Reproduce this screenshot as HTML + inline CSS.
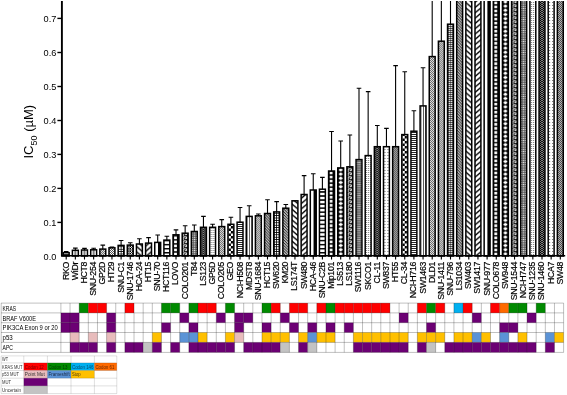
<!DOCTYPE html>
<html><head><meta charset="utf-8"><title>IC50</title>
<style>html,body{margin:0;padding:0;background:#fff}svg{display:block}text{font-family:"Liberation Sans",sans-serif}</style></head><body>
<svg width="567" height="395" viewBox="0 0 567 395">
<defs>
<pattern id="hl" width="2" height="2" patternUnits="userSpaceOnUse"><rect width="2" height="2" fill="#fff"/><rect width="2" height="0.85" fill="#000"/></pattern>
<pattern id="wv" width="4" height="4" patternUnits="userSpaceOnUse"><rect width="4" height="4" fill="#fff"/><rect width="1" height="4" x="1" fill="#000"/></pattern>
<pattern id="dd" width="2" height="2" patternUnits="userSpaceOnUse"><rect width="2" height="2" fill="#000"/><rect width="1" height="1" fill="#fff"/><rect x="1" y="1" width="1" height="1" fill="#bbb"/></pattern>
<pattern id="grid" x="-0.3" width="2" height="2" patternUnits="userSpaceOnUse"><rect width="2" height="2" fill="#fff"/><rect width="2" height="0.6" fill="#000"/><rect width="0.6" height="2" fill="#000"/></pattern>
<pattern id="xh" width="2.4" height="2.4" patternUnits="userSpaceOnUse"><rect width="2.4" height="2.4" fill="#fff"/><path d="M0 0L2.4 2.4M0 2.4L2.4 0" stroke="#000" stroke-width="0.8"/></pattern>
<pattern id="hatch" width="2" height="2" patternUnits="userSpaceOnUse"><rect width="2" height="2" fill="#fff"/><path d="M-1 -1L3 3M-1 1L1 3M1 -1L3 1" stroke="#000" stroke-width="0.7"/></pattern>
<pattern id="bs" x="-3" y="1" width="6" height="5.3" patternUnits="userSpaceOnUse"><rect width="6" height="5.3" fill="#fff"/><path d="M-1 -16.75L7 -9.95M-1 -11.45L7 -4.65M-1 -6.15L7 0.65M-1 -0.85L7 5.95M-1 4.45L7 11.25M-1 9.75L7 16.55" stroke="#000" stroke-width="1.35"/></pattern>
<pattern id="fs" x="-3" y="1" width="6" height="5.3" patternUnits="userSpaceOnUse"><rect width="6" height="5.3" fill="#fff"/><path d="M-1 -9.95L7 -16.75M-1 -4.65L7 -11.45M-1 0.65L7 -6.15M-1 5.95L7 -0.85M-1 11.25L7 4.45M-1 16.55L7 9.75" stroke="#000" stroke-width="1.35"/></pattern>
<pattern id="hlad" width="4" height="4.05" patternUnits="userSpaceOnUse"><rect width="4" height="4.05" fill="#fff"/><rect width="4" height="1.5" fill="#000"/></pattern>
<pattern id="greek" x="-3" width="6" height="4" patternUnits="userSpaceOnUse"><rect width="6" height="4" fill="#000"/><path d="M1.2 4V0.9H4.6V2.7H2.8" stroke="#fff" stroke-width="1" fill="none"/></pattern>
<pattern id="smsq" x="-3.3" width="2.2" height="2.2" patternUnits="userSpaceOnUse"><rect width="2.2" height="2.2" fill="#4a4a4a"/><rect x="0.5" y="0.5" width="1.25" height="1.25" fill="#fff"/></pattern>
<pattern id="dzz" width="3" height="2" patternUnits="userSpaceOnUse"><rect width="3" height="2" fill="#000"/><path d="M0 0.2L1.5 1.6L3 0.2" stroke="#fff" stroke-width="0.6" fill="none"/></pattern>
<pattern id="ldots" width="2" height="2" patternUnits="userSpaceOnUse"><rect width="2" height="2" fill="#fff"/><rect width="1" height="1" fill="#777"/></pattern>
<pattern id="sdots" width="3" height="3" patternUnits="userSpaceOnUse"><rect width="3" height="3" fill="#fff"/><rect x="1" y="1" width="1" height="1" fill="#666"/></pattern>
<pattern id="fchk" width="2" height="2" patternUnits="userSpaceOnUse"><rect width="2" height="2" fill="#fff"/><rect width="1" height="1" fill="#000"/><rect x="1" y="1" width="1" height="1" fill="#000"/></pattern>
<pattern id="vert" width="20" height="4" patternUnits="userSpaceOnUse"><rect width="20" height="4" fill="#fff"/></pattern>
<pattern id="wvl" width="2.4" height="4" patternUnits="userSpaceOnUse"><rect width="2.4" height="4" fill="#fff"/><rect x="0.2" width="0.55" height="4" fill="#000"/></pattern>
<pattern id="sqlad" x="-3" width="6" height="4.05" patternUnits="userSpaceOnUse"><rect width="6" height="4.05" fill="#000"/><rect x="1.1" y="0.7" width="2.8" height="2.7" fill="#fff"/></pattern>
<pattern id="diam" x="-3" width="6" height="4.2" patternUnits="userSpaceOnUse"><rect width="6" height="4.2" fill="#000"/><path d="M3 0.3L5.4 2.1L3 3.9L0.6 2.1Z" fill="#fff"/></pattern>
<pattern id="hatch2" width="2.8" height="2.8" patternUnits="userSpaceOnUse"><rect width="2.8" height="2.8" fill="#fff"/><path d="M-1 -1L3.8 3.8M-1 1.8L1 3.8M1.8 -1L3.8 1" stroke="#000" stroke-width="0.95"/></pattern>
<pattern id="grid2" x="-0.4" width="2.4" height="2.4" patternUnits="userSpaceOnUse"><rect width="2.4" height="2.4" fill="#fff"/><rect width="2.4" height="0.8" fill="#000"/><rect width="0.8" height="2.4" fill="#000"/></pattern>
<pattern id="cl" x="-3" width="6" height="4" patternUnits="userSpaceOnUse"><rect width="6" height="4" fill="#fff"/><rect x="2.5" width="1" height="4" fill="#000"/></pattern>
<pattern id="bigchk" width="5" height="5" patternUnits="userSpaceOnUse"><rect width="5" height="5" fill="#fff"/><rect width="2.5" height="2.5" fill="#000"/><rect x="2.5" y="2.5" width="2.5" height="2.5" fill="#000"/></pattern>
<clipPath id="cp"><rect x="0" y="1" width="567" height="300"/></clipPath></defs>
<rect width="567" height="395" fill="#fff"/>
<g clip-path="url(#cp)">
<g transform="translate(66.20 256.0)">
<path d="M0 -3.30V-4.40M-2.3 -4.40H2.3" stroke="#000" stroke-width="1.1" fill="none"/>
<rect x="-2.95" y="-3.30" width="5.9" height="3.30" fill="url(#hl)" stroke="#000" stroke-width="1.5"/>
</g>
<g transform="translate(75.35 256.0)">
<path d="M0 -5.70V-7.90M-2.3 -7.90H2.3" stroke="#000" stroke-width="1.1" fill="none"/>
<rect x="-2.95" y="-5.70" width="5.9" height="5.70" fill="url(#cl)" stroke="#000" stroke-width="1.5"/>
</g>
<g transform="translate(84.50 256.0)">
<path d="M0 -6.00V-7.60M-2.3 -7.60H2.3" stroke="#000" stroke-width="1.1" fill="none"/>
<rect x="-2.95" y="-6.00" width="5.9" height="6.00" fill="url(#cl)" stroke="#000" stroke-width="1.5"/>
</g>
<g transform="translate(93.65 256.0)">
<path d="M0 -6.20V-7.70M-2.3 -7.70H2.3" stroke="#000" stroke-width="1.1" fill="none"/>
<rect x="-2.95" y="-6.20" width="5.9" height="6.20" fill="url(#cl)" stroke="#000" stroke-width="1.5"/>
</g>
<g transform="translate(102.80 256.0)">
<path d="M0 -6.90V-10.90M-2.3 -10.90H2.3" stroke="#000" stroke-width="1.1" fill="none"/>
<rect x="-2.95" y="-6.90" width="5.9" height="6.90" fill="url(#hatch)" stroke="#000" stroke-width="1.5"/>
</g>
<g transform="translate(111.95 256.0)">
<path d="M0 -8.20V-8.90M-2.3 -8.90H2.3" stroke="#000" stroke-width="1.1" fill="none"/>
<rect x="-2.95" y="-8.20" width="5.9" height="8.20" fill="url(#hatch)" stroke="#000" stroke-width="1.5"/>
</g>
<g transform="translate(121.10 256.0)">
<path d="M0 -10.60V-15.50M-2.3 -15.50H2.3" stroke="#000" stroke-width="1.1" fill="none"/>
<rect x="-2.95" y="-10.60" width="5.9" height="10.60" fill="url(#grid2)" stroke="#000" stroke-width="1.5"/>
</g>
<g transform="translate(130.25 256.0)">
<path d="M0 -10.90V-13.30M-2.3 -13.30H2.3" stroke="#000" stroke-width="1.1" fill="none"/>
<rect x="-2.95" y="-10.90" width="5.9" height="10.90" fill="url(#xh)" stroke="#000" stroke-width="1.5"/>
</g>
<g transform="translate(139.40 256.0)">
<path d="M0 -12.00V-17.30M-2.3 -17.30H2.3" stroke="#000" stroke-width="1.1" fill="none"/>
<rect x="-2.95" y="-12.00" width="5.9" height="12.00" fill="url(#bs)" stroke="#000" stroke-width="1.5"/>
</g>
<g transform="translate(148.55 256.0)">
<path d="M0 -12.90V-18.40M-2.3 -18.40H2.3" stroke="#000" stroke-width="1.1" fill="none"/>
<rect x="-2.95" y="-12.90" width="5.9" height="12.90" fill="url(#fs)" stroke="#000" stroke-width="1.5"/>
</g>
<g transform="translate(157.70 256.0)">
<path d="M0 -13.60V-21.00M-2.3 -21.00H2.3" stroke="#000" stroke-width="1.1" fill="none"/>
<rect x="-2.95" y="-13.60" width="5.9" height="13.60" fill="url(#vert)" stroke="#000" stroke-width="1.5"/>
<rect x="0.3" y="-13.60" width="2.8" height="13.60" fill="#000"/>
</g>
<g transform="translate(166.85 256.0)">
<path d="M0 -15.90V-19.80M-2.3 -19.80H2.3" stroke="#000" stroke-width="1.1" fill="none"/>
<rect x="-2.95" y="-15.90" width="5.9" height="15.90" fill="url(#hlad)" stroke="#000" stroke-width="1.5"/>
</g>
<g transform="translate(176.00 256.0)">
<path d="M0 -21.20V-26.10M-2.3 -26.10H2.3" stroke="#000" stroke-width="1.1" fill="none"/>
<rect x="-2.95" y="-21.20" width="5.9" height="21.20" fill="url(#sqlad)" stroke="#000" stroke-width="1.5"/>
</g>
<g transform="translate(185.15 256.0)">
<path d="M0 -22.80V-30.30M-2.3 -30.30H2.3" stroke="#000" stroke-width="1.1" fill="none"/>
<rect x="-2.95" y="-22.80" width="5.9" height="22.80" fill="url(#greek)" stroke="#000" stroke-width="1.5"/>
</g>
<g transform="translate(194.30 256.0)">
<path d="M0 -24.50V-31.00M-2.3 -31.00H2.3" stroke="#000" stroke-width="1.1" fill="none"/>
<rect x="-2.95" y="-24.50" width="5.9" height="24.50" fill="url(#smsq)" stroke="#000" stroke-width="1.5"/>
</g>
<g transform="translate(203.45 256.0)">
<path d="M0 -28.70V-39.60M-2.3 -39.60H2.3" stroke="#000" stroke-width="1.1" fill="none"/>
<rect x="-2.95" y="-28.70" width="5.9" height="28.70" fill="url(#dzz)" stroke="#000" stroke-width="1.5"/>
</g>
<g transform="translate(212.60 256.0)">
<path d="M0 -28.70V-31.70M-2.3 -31.70H2.3" stroke="#000" stroke-width="1.1" fill="none"/>
<rect x="-2.95" y="-28.70" width="5.9" height="28.70" fill="url(#ldots)" stroke="#000" stroke-width="1.5"/>
</g>
<g transform="translate(221.75 256.0)">
<path d="M0 -29.40V-36.40M-2.3 -36.40H2.3" stroke="#000" stroke-width="1.1" fill="none"/>
<rect x="-2.95" y="-29.40" width="5.9" height="29.40" fill="url(#hatch)" stroke="#000" stroke-width="1.5"/>
</g>
<g transform="translate(230.90 256.0)">
<path d="M0 -31.70V-38.70M-2.3 -38.70H2.3" stroke="#000" stroke-width="1.1" fill="none"/>
<rect x="-2.95" y="-31.70" width="5.9" height="31.70" fill="url(#bigchk)" stroke="#000" stroke-width="1.5"/>
</g>
<g transform="translate(240.05 256.0)">
<path d="M0 -33.80V-48.50M-2.3 -48.50H2.3" stroke="#000" stroke-width="1.1" fill="none"/>
<rect x="-2.95" y="-33.80" width="5.9" height="33.80" fill="url(#hl)" stroke="#000" stroke-width="1.5"/>
</g>
<g transform="translate(249.20 256.0)">
<path d="M0 -39.60V-50.30M-2.3 -50.30H2.3" stroke="#000" stroke-width="1.1" fill="none"/>
<rect x="-2.95" y="-39.60" width="5.9" height="39.60" fill="url(#wvl)" stroke="#000" stroke-width="1.5"/>
</g>
<g transform="translate(258.35 256.0)">
<path d="M0 -40.20V-42.00M-2.3 -42.00H2.3" stroke="#000" stroke-width="1.1" fill="none"/>
<rect x="-2.95" y="-40.20" width="5.9" height="40.20" fill="url(#hatch)" stroke="#000" stroke-width="1.5"/>
</g>
<g transform="translate(267.50 256.0)">
<path d="M0 -42.50V-56.30M-2.3 -56.30H2.3" stroke="#000" stroke-width="1.1" fill="none"/>
<rect x="-2.95" y="-42.50" width="5.9" height="42.50" fill="url(#hatch2)" stroke="#000" stroke-width="1.5"/>
</g>
<g transform="translate(276.65 256.0)">
<path d="M0 -44.10V-54.40M-2.3 -54.40H2.3" stroke="#000" stroke-width="1.1" fill="none"/>
<rect x="-2.95" y="-44.10" width="5.9" height="44.10" fill="url(#grid2)" stroke="#000" stroke-width="1.5"/>
</g>
<g transform="translate(285.80 256.0)">
<path d="M0 -47.80V-51.50M-2.3 -51.50H2.3" stroke="#000" stroke-width="1.1" fill="none"/>
<rect x="-2.95" y="-47.80" width="5.9" height="47.80" fill="url(#hatch2)" stroke="#000" stroke-width="1.5"/>
</g>
<g transform="translate(294.95 256.0)">
<rect x="-2.95" y="-55.20" width="5.9" height="55.20" fill="url(#bs)" stroke="#000" stroke-width="1.5"/>
</g>
<g transform="translate(304.10 256.0)">
<path d="M0 -61.50V-80.40M-2.3 -80.40H2.3" stroke="#000" stroke-width="1.1" fill="none"/>
<rect x="-2.95" y="-61.50" width="5.9" height="61.50" fill="url(#fs)" stroke="#000" stroke-width="1.5"/>
</g>
<g transform="translate(313.25 256.0)">
<path d="M0 -66.00V-82.30M-2.3 -82.30H2.3" stroke="#000" stroke-width="1.1" fill="none"/>
<rect x="-2.95" y="-66.00" width="5.9" height="66.00" fill="url(#vert)" stroke="#000" stroke-width="1.5"/>
<rect x="0.3" y="-66.00" width="2.8" height="66.00" fill="#000"/>
</g>
<g transform="translate(322.40 256.0)">
<path d="M0 -66.80V-78.60M-2.3 -78.60H2.3" stroke="#000" stroke-width="1.1" fill="none"/>
<rect x="-2.95" y="-66.80" width="5.9" height="66.80" fill="url(#hlad)" stroke="#000" stroke-width="1.5"/>
</g>
<g transform="translate(331.55 256.0)">
<path d="M0 -85.00V-124.50M-2.3 -124.50H2.3" stroke="#000" stroke-width="1.1" fill="none"/>
<rect x="-2.95" y="-85.00" width="5.9" height="85.00" fill="url(#sqlad)" stroke="#000" stroke-width="1.5"/>
</g>
<g transform="translate(340.70 256.0)">
<path d="M0 -88.10V-115.00M-2.3 -115.00H2.3" stroke="#000" stroke-width="1.1" fill="none"/>
<rect x="-2.95" y="-88.10" width="5.9" height="88.10" fill="url(#diam)" stroke="#000" stroke-width="1.5"/>
</g>
<g transform="translate(349.85 256.0)">
<path d="M0 -89.20V-121.00M-2.3 -121.00H2.3" stroke="#000" stroke-width="1.1" fill="none"/>
<rect x="-2.95" y="-89.20" width="5.9" height="89.20" fill="url(#greek)" stroke="#000" stroke-width="1.5"/>
</g>
<g transform="translate(359.00 256.0)">
<path d="M0 -96.40V-167.80M-2.3 -167.80H2.3" stroke="#000" stroke-width="1.1" fill="none"/>
<rect x="-2.95" y="-96.40" width="5.9" height="96.40" fill="url(#smsq)" stroke="#000" stroke-width="1.5"/>
</g>
<g transform="translate(368.15 256.0)">
<path d="M0 -100.40V-164.40M-2.3 -164.40H2.3" stroke="#000" stroke-width="1.1" fill="none"/>
<rect x="-2.95" y="-100.40" width="5.9" height="100.40" fill="url(#ldots)" stroke="#000" stroke-width="1.5"/>
</g>
<g transform="translate(377.30 256.0)">
<path d="M0 -109.30V-130.50M-2.3 -130.50H2.3" stroke="#000" stroke-width="1.1" fill="none"/>
<rect x="-2.95" y="-109.30" width="5.9" height="109.30" fill="url(#dzz)" stroke="#000" stroke-width="1.5"/>
</g>
<g transform="translate(386.45 256.0)">
<path d="M0 -109.30V-127.60M-2.3 -127.60H2.3" stroke="#000" stroke-width="1.1" fill="none"/>
<rect x="-2.95" y="-109.30" width="5.9" height="109.30" fill="url(#sdots)" stroke="#000" stroke-width="1.5"/>
</g>
<g transform="translate(395.60 256.0)">
<path d="M0 -109.30V-190.40M-2.3 -190.40H2.3" stroke="#000" stroke-width="1.1" fill="none"/>
<rect x="-2.95" y="-109.30" width="5.9" height="109.30" fill="url(#fchk)" stroke="#000" stroke-width="1.5"/>
</g>
<g transform="translate(404.75 256.0)">
<path d="M0 -121.40V-184.20M-2.3 -184.20H2.3" stroke="#000" stroke-width="1.1" fill="none"/>
<rect x="-2.95" y="-121.40" width="5.9" height="121.40" fill="url(#bigchk)" stroke="#000" stroke-width="1.5"/>
</g>
<g transform="translate(413.90 256.0)">
<path d="M0 -124.80V-145.20M-2.3 -145.20H2.3" stroke="#000" stroke-width="1.1" fill="none"/>
<rect x="-2.95" y="-124.80" width="5.9" height="124.80" fill="url(#hl)" stroke="#000" stroke-width="1.5"/>
</g>
<g transform="translate(423.05 256.0)">
<path d="M0 -150.10V-188.30M-2.3 -188.30H2.3" stroke="#000" stroke-width="1.1" fill="none"/>
<rect x="-2.95" y="-150.10" width="5.9" height="150.10" fill="url(#wvl)" stroke="#000" stroke-width="1.5"/>
</g>
<g transform="translate(432.20 256.0)">
<path d="M0 -199.40V-400.00M-2.3 -400.00H2.3" stroke="#000" stroke-width="1.1" fill="none"/>
<rect x="-2.95" y="-199.40" width="5.9" height="199.40" fill="url(#hatch)" stroke="#000" stroke-width="1.5"/>
</g>
<g transform="translate(441.35 256.0)">
<path d="M0 -214.80V-400.00M-2.3 -400.00H2.3" stroke="#000" stroke-width="1.1" fill="none"/>
<rect x="-2.95" y="-214.80" width="5.9" height="214.80" fill="url(#hatch)" stroke="#000" stroke-width="1.5"/>
</g>
<g transform="translate(450.50 256.0)">
<path d="M0 -231.80V-400.00M-2.3 -400.00H2.3" stroke="#000" stroke-width="1.1" fill="none"/>
<rect x="-2.95" y="-231.80" width="5.9" height="231.80" fill="url(#grid)" stroke="#000" stroke-width="1.5"/>
</g>
<g transform="translate(459.65 256.0)">
<rect x="-2.95" y="-400.00" width="5.9" height="400.00" fill="url(#hatch2)" stroke="#000" stroke-width="1.5"/>
</g>
<g transform="translate(468.80 256.0)">
<rect x="-2.95" y="-400.00" width="5.9" height="400.00" fill="url(#bs)" stroke="#000" stroke-width="1.5"/>
</g>
<g transform="translate(477.95 256.0)">
<rect x="-2.95" y="-400.00" width="5.9" height="400.00" fill="url(#fs)" stroke="#000" stroke-width="1.5"/>
</g>
<g transform="translate(487.10 256.0)">
<rect x="-2.95" y="-400.00" width="5.9" height="400.00" fill="url(#vert)" stroke="#000" stroke-width="1.5"/>
<rect x="0.3" y="-400.00" width="2.8" height="400.00" fill="#000"/>
</g>
<g transform="translate(496.25 256.0)">
<rect x="-2.95" y="-400.00" width="5.9" height="400.00" fill="url(#sqlad)" stroke="#000" stroke-width="1.5"/>
</g>
<g transform="translate(505.40 256.0)">
<rect x="-2.95" y="-400.00" width="5.9" height="400.00" fill="url(#diam)" stroke="#000" stroke-width="1.5"/>
</g>
<g transform="translate(514.55 256.0)">
<rect x="-2.95" y="-400.00" width="5.9" height="400.00" fill="url(#greek)" stroke="#000" stroke-width="1.5"/>
</g>
<g transform="translate(523.70 256.0)">
<rect x="-2.95" y="-400.00" width="5.9" height="400.00" fill="url(#smsq)" stroke="#000" stroke-width="1.5"/>
</g>
<g transform="translate(532.85 256.0)">
<rect x="-2.95" y="-400.00" width="5.9" height="400.00" fill="url(#ldots)" stroke="#000" stroke-width="1.5"/>
</g>
<g transform="translate(542.00 256.0)">
<rect x="-2.95" y="-400.00" width="5.9" height="400.00" fill="url(#dzz)" stroke="#000" stroke-width="1.5"/>
</g>
<g transform="translate(551.15 256.0)">
<rect x="-2.95" y="-400.00" width="5.9" height="400.00" fill="url(#sdots)" stroke="#000" stroke-width="1.5"/>
</g>
<g transform="translate(560.30 256.0)">
<rect x="-2.95" y="-400.00" width="5.9" height="400.00" fill="url(#fchk)" stroke="#000" stroke-width="1.5"/>
</g>
</g>
<path d="M61.9 1V256.6" stroke="#000" stroke-width="1.9"/>
<path d="M61.25 255.8H565.2" stroke="#000" stroke-width="1.6"/>
<text x="56.3" y="259.8" font-size="9.2" text-anchor="end">0.0</text>
<path d="M57.4 222.4H62.0" stroke="#000" stroke-width="1.4"/>
<text x="56.3" y="225.8" font-size="9.2" text-anchor="end">0.1</text>
<path d="M57.4 188.4H62.0" stroke="#000" stroke-width="1.4"/>
<text x="56.3" y="191.8" font-size="9.2" text-anchor="end">0.2</text>
<path d="M57.4 154.4H62.0" stroke="#000" stroke-width="1.4"/>
<text x="56.3" y="157.8" font-size="9.2" text-anchor="end">0.3</text>
<path d="M57.4 120.5H62.0" stroke="#000" stroke-width="1.4"/>
<text x="56.3" y="123.8" font-size="9.2" text-anchor="end">0.4</text>
<path d="M57.4 86.5H62.0" stroke="#000" stroke-width="1.4"/>
<text x="56.3" y="89.8" font-size="9.2" text-anchor="end">0.5</text>
<path d="M57.4 52.5H62.0" stroke="#000" stroke-width="1.4"/>
<text x="56.3" y="55.8" font-size="9.2" text-anchor="end">0.6</text>
<path d="M57.4 18.4H62.0" stroke="#000" stroke-width="1.4"/>
<text x="56.3" y="21.8" font-size="9.2" text-anchor="end">0.7</text>
<path d="M66.20 256.0V259.6M75.35 256.0V259.6M84.50 256.0V259.6M93.65 256.0V259.6M102.80 256.0V259.6M111.95 256.0V259.6M121.10 256.0V259.6M130.25 256.0V259.6M139.40 256.0V259.6M148.55 256.0V259.6M157.70 256.0V259.6M166.85 256.0V259.6M176.00 256.0V259.6M185.15 256.0V259.6M194.30 256.0V259.6M203.45 256.0V259.6M212.60 256.0V259.6M221.75 256.0V259.6M230.90 256.0V259.6M240.05 256.0V259.6M249.20 256.0V259.6M258.35 256.0V259.6M267.50 256.0V259.6M276.65 256.0V259.6M285.80 256.0V259.6M294.95 256.0V259.6M304.10 256.0V259.6M313.25 256.0V259.6M322.40 256.0V259.6M331.55 256.0V259.6M340.70 256.0V259.6M349.85 256.0V259.6M359.00 256.0V259.6M368.15 256.0V259.6M377.30 256.0V259.6M386.45 256.0V259.6M395.60 256.0V259.6M404.75 256.0V259.6M413.90 256.0V259.6M423.05 256.0V259.6M432.20 256.0V259.6M441.35 256.0V259.6M450.50 256.0V259.6M459.65 256.0V259.6M468.80 256.0V259.6M477.95 256.0V259.6M487.10 256.0V259.6M496.25 256.0V259.6M505.40 256.0V259.6M514.55 256.0V259.6M523.70 256.0V259.6M532.85 256.0V259.6M542.00 256.0V259.6M551.15 256.0V259.6M560.30 256.0V259.6" stroke="#000" stroke-width="1.1"/>
<text transform="translate(68.65 262) rotate(-90)" font-size="8.8" letter-spacing="-0.35" text-anchor="end" stroke="#000" stroke-width="0.2">RKO</text>
<text transform="translate(77.80 262) rotate(-90)" font-size="8.8" letter-spacing="-0.35" text-anchor="end" stroke="#000" stroke-width="0.2">WiDr</text>
<text transform="translate(86.95 262) rotate(-90)" font-size="8.8" letter-spacing="-0.35" text-anchor="end" stroke="#000" stroke-width="0.2">HCT8</text>
<text transform="translate(96.10 262) rotate(-90)" font-size="8.8" letter-spacing="-0.35" text-anchor="end" stroke="#000" stroke-width="0.2">SNU-254</text>
<text transform="translate(105.25 262) rotate(-90)" font-size="8.8" letter-spacing="-0.35" text-anchor="end" stroke="#000" stroke-width="0.2">GP2D</text>
<text transform="translate(114.40 262) rotate(-90)" font-size="8.8" letter-spacing="-0.35" text-anchor="end" stroke="#000" stroke-width="0.2">HT29</text>
<text transform="translate(123.55 262) rotate(-90)" font-size="8.8" letter-spacing="-0.35" text-anchor="end" stroke="#000" stroke-width="0.2">SNU-C1</text>
<text transform="translate(132.70 262) rotate(-90)" font-size="8.8" letter-spacing="-0.35" text-anchor="end" stroke="#000" stroke-width="0.2">SNU-1746</text>
<text transform="translate(141.85 262) rotate(-90)" font-size="8.8" letter-spacing="-0.35" text-anchor="end" stroke="#000" stroke-width="0.2">HCA-24</text>
<text transform="translate(151.00 262) rotate(-90)" font-size="8.8" letter-spacing="-0.35" text-anchor="end" stroke="#000" stroke-width="0.2">HT15</text>
<text transform="translate(160.15 262) rotate(-90)" font-size="8.8" letter-spacing="-0.35" text-anchor="end" stroke="#000" stroke-width="0.2">SNU-70</text>
<text transform="translate(169.30 262) rotate(-90)" font-size="8.8" letter-spacing="-0.35" text-anchor="end" stroke="#000" stroke-width="0.2">HCT116</text>
<text transform="translate(178.45 262) rotate(-90)" font-size="8.8" letter-spacing="-0.35" text-anchor="end" stroke="#000" stroke-width="0.2">LOVO</text>
<text transform="translate(187.60 262) rotate(-90)" font-size="8.8" letter-spacing="-0.35" text-anchor="end" stroke="#000" stroke-width="0.2">COLO201</text>
<text transform="translate(196.75 262) rotate(-90)" font-size="8.8" letter-spacing="-0.35" text-anchor="end" stroke="#000" stroke-width="0.2">T84</text>
<text transform="translate(205.90 262) rotate(-90)" font-size="8.8" letter-spacing="-0.35" text-anchor="end" stroke="#000" stroke-width="0.2">LS123</text>
<text transform="translate(215.05 262) rotate(-90)" font-size="8.8" letter-spacing="-0.35" text-anchor="end" stroke="#000" stroke-width="0.2">GP5D</text>
<text transform="translate(224.20 262) rotate(-90)" font-size="8.8" letter-spacing="-0.35" text-anchor="end" stroke="#000" stroke-width="0.2">COLO205</text>
<text transform="translate(233.35 262) rotate(-90)" font-size="8.8" letter-spacing="-0.35" text-anchor="end" stroke="#000" stroke-width="0.2">GEO</text>
<text transform="translate(242.50 262) rotate(-90)" font-size="8.8" letter-spacing="-0.35" text-anchor="end" stroke="#000" stroke-width="0.2">NCI-H508</text>
<text transform="translate(251.65 262) rotate(-90)" font-size="8.8" letter-spacing="-0.35" text-anchor="end" stroke="#000" stroke-width="0.2">MDST8</text>
<text transform="translate(260.80 262) rotate(-90)" font-size="8.8" letter-spacing="-0.35" text-anchor="end" stroke="#000" stroke-width="0.2">SNU-1684</text>
<text transform="translate(269.95 262) rotate(-90)" font-size="8.8" letter-spacing="-0.35" text-anchor="end" stroke="#000" stroke-width="0.2">HCT15</text>
<text transform="translate(279.10 262) rotate(-90)" font-size="8.8" letter-spacing="-0.35" text-anchor="end" stroke="#000" stroke-width="0.2">SW620</text>
<text transform="translate(288.25 262) rotate(-90)" font-size="8.8" letter-spacing="-0.35" text-anchor="end" stroke="#000" stroke-width="0.2">KM20</text>
<text transform="translate(297.40 262) rotate(-90)" font-size="8.8" letter-spacing="-0.35" text-anchor="end" stroke="#000" stroke-width="0.2">LS174T</text>
<text transform="translate(306.55 262) rotate(-90)" font-size="8.8" letter-spacing="-0.35" text-anchor="end" stroke="#000" stroke-width="0.2">SW480</text>
<text transform="translate(315.70 262) rotate(-90)" font-size="8.8" letter-spacing="-0.35" text-anchor="end" stroke="#000" stroke-width="0.2">HCA-46</text>
<text transform="translate(324.85 262) rotate(-90)" font-size="8.8" letter-spacing="-0.35" text-anchor="end" stroke="#000" stroke-width="0.2">SNU-C2B</text>
<text transform="translate(334.00 262) rotate(-90)" font-size="8.8" letter-spacing="-0.35" text-anchor="end" stroke="#000" stroke-width="0.2">Mip101</text>
<text transform="translate(343.15 262) rotate(-90)" font-size="8.8" letter-spacing="-0.35" text-anchor="end" stroke="#000" stroke-width="0.2">LS513</text>
<text transform="translate(352.30 262) rotate(-90)" font-size="8.8" letter-spacing="-0.35" text-anchor="end" stroke="#000" stroke-width="0.2">LS180</text>
<text transform="translate(361.45 262) rotate(-90)" font-size="8.8" letter-spacing="-0.35" text-anchor="end" stroke="#000" stroke-width="0.2">SW1116</text>
<text transform="translate(370.60 262) rotate(-90)" font-size="8.8" letter-spacing="-0.35" text-anchor="end" stroke="#000" stroke-width="0.2">SKCO1</text>
<text transform="translate(379.75 262) rotate(-90)" font-size="8.8" letter-spacing="-0.35" text-anchor="end" stroke="#000" stroke-width="0.2">CL-11</text>
<text transform="translate(388.90 262) rotate(-90)" font-size="8.8" letter-spacing="-0.35" text-anchor="end" stroke="#000" stroke-width="0.2">SW837</text>
<text transform="translate(398.05 262) rotate(-90)" font-size="8.8" letter-spacing="-0.35" text-anchor="end" stroke="#000" stroke-width="0.2">HT55</text>
<text transform="translate(407.20 262) rotate(-90)" font-size="8.8" letter-spacing="-0.35" text-anchor="end" stroke="#000" stroke-width="0.2">CL-34</text>
<text transform="translate(416.35 262) rotate(-90)" font-size="8.8" letter-spacing="-0.35" text-anchor="end" stroke="#000" stroke-width="0.2">NCI-H716</text>
<text transform="translate(425.50 262) rotate(-90)" font-size="8.8" letter-spacing="-0.35" text-anchor="end" stroke="#000" stroke-width="0.2">SW1463</text>
<text transform="translate(434.65 262) rotate(-90)" font-size="8.8" letter-spacing="-0.35" text-anchor="end" stroke="#000" stroke-width="0.2">DLD1</text>
<text transform="translate(443.80 262) rotate(-90)" font-size="8.8" letter-spacing="-0.35" text-anchor="end" stroke="#000" stroke-width="0.2">SNU-1411</text>
<text transform="translate(452.95 262) rotate(-90)" font-size="8.8" letter-spacing="-0.35" text-anchor="end" stroke="#000" stroke-width="0.2">SNU-796</text>
<text transform="translate(462.10 262) rotate(-90)" font-size="8.8" letter-spacing="-0.35" text-anchor="end" stroke="#000" stroke-width="0.2">LS1034</text>
<text transform="translate(471.25 262) rotate(-90)" font-size="8.8" letter-spacing="-0.35" text-anchor="end" stroke="#000" stroke-width="0.2">SW403</text>
<text transform="translate(480.40 262) rotate(-90)" font-size="8.8" letter-spacing="-0.35" text-anchor="end" stroke="#000" stroke-width="0.2">SW1417</text>
<text transform="translate(489.55 262) rotate(-90)" font-size="8.8" letter-spacing="-0.35" text-anchor="end" stroke="#000" stroke-width="0.2">SNU-977</text>
<text transform="translate(498.70 262) rotate(-90)" font-size="8.8" letter-spacing="-0.35" text-anchor="end" stroke="#000" stroke-width="0.2">COLO678</text>
<text transform="translate(507.85 262) rotate(-90)" font-size="8.8" letter-spacing="-0.35" text-anchor="end" stroke="#000" stroke-width="0.2">SW948</text>
<text transform="translate(517.00 262) rotate(-90)" font-size="8.8" letter-spacing="-0.35" text-anchor="end" stroke="#000" stroke-width="0.2">SNU-1544</text>
<text transform="translate(526.15 262) rotate(-90)" font-size="8.8" letter-spacing="-0.35" text-anchor="end" stroke="#000" stroke-width="0.2">NCI-H747</text>
<text transform="translate(535.30 262) rotate(-90)" font-size="8.8" letter-spacing="-0.35" text-anchor="end" stroke="#000" stroke-width="0.2">SNU-1235</text>
<text transform="translate(544.45 262) rotate(-90)" font-size="8.8" letter-spacing="-0.35" text-anchor="end" stroke="#000" stroke-width="0.2">SNU-1460</text>
<text transform="translate(553.60 262) rotate(-90)" font-size="8.8" letter-spacing="-0.35" text-anchor="end" stroke="#000" stroke-width="0.2">HCA7</text>
<text transform="translate(562.75 262) rotate(-90)" font-size="8.8" letter-spacing="-0.35" text-anchor="end" stroke="#000" stroke-width="0.2">SW48</text>
<text transform="translate(33.3 158.5) rotate(-90)" font-size="13">IC<tspan font-size="9" dy="3.5">50</tspan><tspan dy="-3.5"> (µM)</tspan></text>
<rect x="79.18" y="303.10" width="9.14" height="9.80" fill="#008a00"/>
<rect x="88.32" y="303.10" width="9.14" height="9.80" fill="#ff0000"/>
<rect x="97.46" y="303.10" width="9.14" height="9.80" fill="#ff0000"/>
<rect x="124.88" y="303.10" width="9.14" height="9.80" fill="#ff0000"/>
<rect x="161.44" y="303.10" width="9.14" height="9.80" fill="#008a00"/>
<rect x="170.58" y="303.10" width="9.14" height="9.80" fill="#008a00"/>
<rect x="188.86" y="303.10" width="9.14" height="9.80" fill="#008a00"/>
<rect x="198.00" y="303.10" width="9.14" height="9.80" fill="#ff0000"/>
<rect x="207.14" y="303.10" width="9.14" height="9.80" fill="#ff0000"/>
<rect x="225.42" y="303.10" width="9.14" height="9.80" fill="#008a00"/>
<rect x="261.98" y="303.10" width="9.14" height="9.80" fill="#008a00"/>
<rect x="271.12" y="303.10" width="9.14" height="9.80" fill="#ff0000"/>
<rect x="289.40" y="303.10" width="9.14" height="9.80" fill="#ff0000"/>
<rect x="298.54" y="303.10" width="9.14" height="9.80" fill="#ff0000"/>
<rect x="316.82" y="303.10" width="9.14" height="9.80" fill="#ff0000"/>
<rect x="325.96" y="303.10" width="9.14" height="9.80" fill="#008a00"/>
<rect x="335.10" y="303.10" width="9.14" height="9.80" fill="#ff0000"/>
<rect x="344.24" y="303.10" width="9.14" height="9.80" fill="#ff0000"/>
<rect x="353.38" y="303.10" width="9.14" height="9.80" fill="#ff0000"/>
<rect x="362.52" y="303.10" width="9.14" height="9.80" fill="#ff0000"/>
<rect x="371.66" y="303.10" width="9.14" height="9.80" fill="#ff0000"/>
<rect x="380.80" y="303.10" width="9.14" height="9.80" fill="#ff0000"/>
<rect x="417.36" y="303.10" width="9.14" height="9.80" fill="#ff0000"/>
<rect x="426.50" y="303.10" width="9.14" height="9.80" fill="#008a00"/>
<rect x="435.64" y="303.10" width="9.14" height="9.80" fill="#ff0000"/>
<rect x="453.92" y="303.10" width="9.14" height="9.80" fill="#00b0f0"/>
<rect x="463.06" y="303.10" width="9.14" height="9.80" fill="#ff0000"/>
<rect x="490.48" y="303.10" width="9.14" height="9.80" fill="#ff0000"/>
<rect x="499.62" y="303.10" width="9.14" height="9.80" fill="#ff6a00"/>
<rect x="508.76" y="303.10" width="9.14" height="9.80" fill="#008a00"/>
<rect x="517.90" y="303.10" width="9.14" height="9.80" fill="#008a00"/>
<rect x="536.18" y="303.10" width="9.14" height="9.80" fill="#008a00"/>
<rect x="60.90" y="312.90" width="9.14" height="9.80" fill="#6c0074"/>
<rect x="70.04" y="312.90" width="9.14" height="9.80" fill="#6c0074"/>
<rect x="106.60" y="312.90" width="9.14" height="9.80" fill="#6c0074"/>
<rect x="179.72" y="312.90" width="9.14" height="9.80" fill="#6c0074"/>
<rect x="216.28" y="312.90" width="9.14" height="9.80" fill="#6c0074"/>
<rect x="234.56" y="312.90" width="9.14" height="9.80" fill="#6c0074"/>
<rect x="243.70" y="312.90" width="9.14" height="9.80" fill="#6c0074"/>
<rect x="280.26" y="312.90" width="9.14" height="9.80" fill="#6c0074"/>
<rect x="399.08" y="312.90" width="9.14" height="9.80" fill="#6c0074"/>
<rect x="472.20" y="312.90" width="9.14" height="9.80" fill="#6c0074"/>
<rect x="527.04" y="312.90" width="9.14" height="9.80" fill="#6c0074"/>
<rect x="60.90" y="322.70" width="9.14" height="9.80" fill="#6c0074"/>
<rect x="70.04" y="322.70" width="9.14" height="9.80" fill="#6c0074"/>
<rect x="106.60" y="322.70" width="9.14" height="9.80" fill="#6c0074"/>
<rect x="161.44" y="322.70" width="9.14" height="9.80" fill="#6c0074"/>
<rect x="188.86" y="322.70" width="9.14" height="9.80" fill="#6c0074"/>
<rect x="234.56" y="322.70" width="9.14" height="9.80" fill="#6c0074"/>
<rect x="261.98" y="322.70" width="9.14" height="9.80" fill="#6c0074"/>
<rect x="289.40" y="322.70" width="9.14" height="9.80" fill="#6c0074"/>
<rect x="307.68" y="322.70" width="9.14" height="9.80" fill="#6c0074"/>
<rect x="325.96" y="322.70" width="9.14" height="9.80" fill="#6c0074"/>
<rect x="344.24" y="322.70" width="9.14" height="9.80" fill="#6c0074"/>
<rect x="426.50" y="322.70" width="9.14" height="9.80" fill="#6c0074"/>
<rect x="499.62" y="322.70" width="9.14" height="9.80" fill="#6c0074"/>
<rect x="508.76" y="322.70" width="9.14" height="9.80" fill="#6c0074"/>
<rect x="70.04" y="332.50" width="9.14" height="9.90" fill="#e8bcbc"/>
<rect x="88.32" y="332.50" width="9.14" height="9.90" fill="#e8bcbc"/>
<rect x="106.60" y="332.50" width="9.14" height="9.90" fill="#e8bcbc"/>
<rect x="152.30" y="332.50" width="9.14" height="9.90" fill="#ffc000"/>
<rect x="179.72" y="332.50" width="9.14" height="9.90" fill="#5b93d6"/>
<rect x="188.86" y="332.50" width="9.14" height="9.90" fill="#5b93d6"/>
<rect x="198.00" y="332.50" width="9.14" height="9.90" fill="#ffc000"/>
<rect x="225.42" y="332.50" width="9.14" height="9.90" fill="#ffc000"/>
<rect x="234.56" y="332.50" width="9.14" height="9.90" fill="#e8bcbc"/>
<rect x="261.98" y="332.50" width="9.14" height="9.90" fill="#ffc000"/>
<rect x="271.12" y="332.50" width="9.14" height="9.90" fill="#ffc000"/>
<rect x="280.26" y="332.50" width="9.14" height="9.90" fill="#ffc000"/>
<rect x="298.54" y="332.50" width="9.14" height="9.90" fill="#ffc000"/>
<rect x="307.68" y="332.50" width="9.14" height="9.90" fill="#5b93d6"/>
<rect x="316.82" y="332.50" width="9.14" height="9.90" fill="#ffc000"/>
<rect x="325.96" y="332.50" width="9.14" height="9.90" fill="#ffc000"/>
<rect x="353.38" y="332.50" width="9.14" height="9.90" fill="#ffc000"/>
<rect x="362.52" y="332.50" width="9.14" height="9.90" fill="#ffc000"/>
<rect x="371.66" y="332.50" width="9.14" height="9.90" fill="#ffc000"/>
<rect x="380.80" y="332.50" width="9.14" height="9.90" fill="#ffc000"/>
<rect x="389.94" y="332.50" width="9.14" height="9.90" fill="#ffc000"/>
<rect x="399.08" y="332.50" width="9.14" height="9.90" fill="#ffc000"/>
<rect x="417.36" y="332.50" width="9.14" height="9.90" fill="#ffc000"/>
<rect x="426.50" y="332.50" width="9.14" height="9.90" fill="#ffc000"/>
<rect x="435.64" y="332.50" width="9.14" height="9.90" fill="#ffc000"/>
<rect x="453.92" y="332.50" width="9.14" height="9.90" fill="#ffc000"/>
<rect x="463.06" y="332.50" width="9.14" height="9.90" fill="#ffc000"/>
<rect x="472.20" y="332.50" width="9.14" height="9.90" fill="#5b93d6"/>
<rect x="481.34" y="332.50" width="9.14" height="9.90" fill="#ffc000"/>
<rect x="499.62" y="332.50" width="9.14" height="9.90" fill="#5b93d6"/>
<rect x="517.90" y="332.50" width="9.14" height="9.90" fill="#ffc000"/>
<rect x="545.32" y="332.50" width="9.14" height="9.90" fill="#5b93d6"/>
<rect x="554.46" y="332.50" width="9.14" height="9.90" fill="#ffc000"/>
<rect x="70.04" y="342.40" width="9.14" height="10.00" fill="#6c0074"/>
<rect x="79.18" y="342.40" width="9.14" height="10.00" fill="#6c0074"/>
<rect x="88.32" y="342.40" width="9.14" height="10.00" fill="#6c0074"/>
<rect x="106.60" y="342.40" width="9.14" height="10.00" fill="#6c0074"/>
<rect x="124.88" y="342.40" width="9.14" height="10.00" fill="#6c0074"/>
<rect x="134.02" y="342.40" width="9.14" height="10.00" fill="#6c0074"/>
<rect x="143.16" y="342.40" width="9.14" height="10.00" fill="#c3c3c3"/>
<rect x="152.30" y="342.40" width="9.14" height="10.00" fill="#6c0074"/>
<rect x="170.58" y="342.40" width="9.14" height="10.00" fill="#6c0074"/>
<rect x="188.86" y="342.40" width="9.14" height="10.00" fill="#6c0074"/>
<rect x="198.00" y="342.40" width="9.14" height="10.00" fill="#6c0074"/>
<rect x="207.14" y="342.40" width="9.14" height="10.00" fill="#6c0074"/>
<rect x="216.28" y="342.40" width="9.14" height="10.00" fill="#6c0074"/>
<rect x="225.42" y="342.40" width="9.14" height="10.00" fill="#6c0074"/>
<rect x="243.70" y="342.40" width="9.14" height="10.00" fill="#6c0074"/>
<rect x="252.84" y="342.40" width="9.14" height="10.00" fill="#6c0074"/>
<rect x="261.98" y="342.40" width="9.14" height="10.00" fill="#6c0074"/>
<rect x="271.12" y="342.40" width="9.14" height="10.00" fill="#6c0074"/>
<rect x="280.26" y="342.40" width="9.14" height="10.00" fill="#c3c3c3"/>
<rect x="298.54" y="342.40" width="9.14" height="10.00" fill="#6c0074"/>
<rect x="307.68" y="342.40" width="9.14" height="10.00" fill="#c3c3c3"/>
<rect x="353.38" y="342.40" width="9.14" height="10.00" fill="#6c0074"/>
<rect x="362.52" y="342.40" width="9.14" height="10.00" fill="#6c0074"/>
<rect x="371.66" y="342.40" width="9.14" height="10.00" fill="#6c0074"/>
<rect x="380.80" y="342.40" width="9.14" height="10.00" fill="#6c0074"/>
<rect x="389.94" y="342.40" width="9.14" height="10.00" fill="#6c0074"/>
<rect x="399.08" y="342.40" width="9.14" height="10.00" fill="#6c0074"/>
<rect x="417.36" y="342.40" width="9.14" height="10.00" fill="#6c0074"/>
<rect x="426.50" y="342.40" width="9.14" height="10.00" fill="#c3c3c3"/>
<rect x="444.78" y="342.40" width="9.14" height="10.00" fill="#6c0074"/>
<rect x="453.92" y="342.40" width="9.14" height="10.00" fill="#6c0074"/>
<rect x="463.06" y="342.40" width="9.14" height="10.00" fill="#6c0074"/>
<rect x="472.20" y="342.40" width="9.14" height="10.00" fill="#6c0074"/>
<rect x="481.34" y="342.40" width="9.14" height="10.00" fill="#6c0074"/>
<rect x="490.48" y="342.40" width="9.14" height="10.00" fill="#6c0074"/>
<rect x="499.62" y="342.40" width="9.14" height="10.00" fill="#6c0074"/>
<rect x="508.76" y="342.40" width="9.14" height="10.00" fill="#6c0074"/>
<rect x="517.90" y="342.40" width="9.14" height="10.00" fill="#6c0074"/>
<rect x="527.04" y="342.40" width="9.14" height="10.00" fill="#6c0074"/>
<rect x="545.32" y="342.40" width="9.14" height="10.00" fill="#6c0074"/>
<path d="M1 303.10H563.60M1 312.90H563.60M1 322.70H563.60M1 332.50H563.60M1 342.40H563.60M1 352.40H563.60M1.2 303.1V352.4M60.90 303.1V352.4M70.04 303.1V352.4M79.18 303.1V352.4M88.32 303.1V352.4M97.46 303.1V352.4M106.60 303.1V352.4M115.74 303.1V352.4M124.88 303.1V352.4M134.02 303.1V352.4M143.16 303.1V352.4M152.30 303.1V352.4M161.44 303.1V352.4M170.58 303.1V352.4M179.72 303.1V352.4M188.86 303.1V352.4M198.00 303.1V352.4M207.14 303.1V352.4M216.28 303.1V352.4M225.42 303.1V352.4M234.56 303.1V352.4M243.70 303.1V352.4M252.84 303.1V352.4M261.98 303.1V352.4M271.12 303.1V352.4M280.26 303.1V352.4M289.40 303.1V352.4M298.54 303.1V352.4M307.68 303.1V352.4M316.82 303.1V352.4M325.96 303.1V352.4M335.10 303.1V352.4M344.24 303.1V352.4M353.38 303.1V352.4M362.52 303.1V352.4M371.66 303.1V352.4M380.80 303.1V352.4M389.94 303.1V352.4M399.08 303.1V352.4M408.22 303.1V352.4M417.36 303.1V352.4M426.50 303.1V352.4M435.64 303.1V352.4M444.78 303.1V352.4M453.92 303.1V352.4M463.06 303.1V352.4M472.20 303.1V352.4M481.34 303.1V352.4M490.48 303.1V352.4M499.62 303.1V352.4M508.76 303.1V352.4M517.90 303.1V352.4M527.04 303.1V352.4M536.18 303.1V352.4M545.32 303.1V352.4M554.46 303.1V352.4M563.60 303.1V352.4" stroke="#000" stroke-opacity="0.28" stroke-width="0.9" fill="none"/>
<text x="2.5" y="310.7" font-size="7" textLength="13.5" lengthAdjust="spacingAndGlyphs" fill="#000">KRAS</text>
<text x="2.5" y="320.5" font-size="7" textLength="33.4" lengthAdjust="spacingAndGlyphs" fill="#000">BRAF V600E</text>
<text x="2.5" y="330.3" font-size="7" textLength="55.2" lengthAdjust="spacingAndGlyphs" fill="#000">PIK3CA Exon 9 or 20</text>
<text x="2.5" y="340.2" font-size="7" textLength="10.3" lengthAdjust="spacingAndGlyphs" fill="#000">p53</text>
<text x="2.5" y="350.2" font-size="7" textLength="10.5" lengthAdjust="spacingAndGlyphs" fill="#000">APC</text>
<rect x="23.8" y="362.9" width="23.60" height="7.60" fill="#ff0000"/>
<rect x="47.4" y="362.9" width="23.60" height="7.60" fill="#008a00"/>
<rect x="71" y="362.9" width="23.40" height="7.60" fill="#00b0f0"/>
<rect x="94.4" y="362.9" width="22.40" height="7.60" fill="#ff6a00"/>
<rect x="23.8" y="370.5" width="23.60" height="7.70" fill="#e8bcbc"/>
<rect x="47.4" y="370.5" width="23.60" height="7.70" fill="#5b93d6"/>
<rect x="71" y="370.5" width="23.40" height="7.70" fill="#ffc000"/>
<rect x="23.8" y="378.2" width="23.60" height="7.70" fill="#6c0074"/>
<rect x="23.8" y="385.9" width="23.60" height="7.70" fill="#c3c3c3"/>
<path d="M1.1 355.9H116.8M1.1 362.9H116.8M1.1 370.5H116.8M1.1 378.2H116.8M1.1 385.9H116.8M1.1 393.6H116.8M1.1 355.9V393.6M23.8 355.9V393.6M47.4 355.9V393.6M71 355.9V393.6M94.4 355.9V393.6M116.8 355.9V393.6" stroke="#000" stroke-opacity="0.16" stroke-width="0.8" fill="none"/>
<text x="24.8" y="368.6" font-size="5.1" textLength="19" lengthAdjust="spacingAndGlyphs" fill="#7a0000">Codon 12</text>
<text x="48.4" y="368.6" font-size="5.1" textLength="19" lengthAdjust="spacingAndGlyphs" fill="#003a00">Codon 13</text>
<text x="72" y="368.6" font-size="5.1" textLength="21.5" lengthAdjust="spacingAndGlyphs" fill="#004a70">Codon 146</text>
<text x="95.4" y="368.6" font-size="5.1" textLength="19" lengthAdjust="spacingAndGlyphs" fill="#6a2a00">Codon 61</text>
<text x="24.8" y="376.3" font-size="5.1" textLength="20" lengthAdjust="spacingAndGlyphs" fill="#333">Point Mut</text>
<text x="48.4" y="376.3" font-size="5.1" textLength="21.5" lengthAdjust="spacingAndGlyphs" fill="#1a2a44">Frameshift</text>
<text x="72" y="376.3" font-size="5.1" textLength="8.5" lengthAdjust="spacingAndGlyphs" fill="#4a3800">Stop</text>
<text x="2" y="361.0" font-size="5.1" textLength="6" lengthAdjust="spacingAndGlyphs" fill="#333">WT</text>
<text x="2" y="368.6" font-size="5.1" textLength="20.5" lengthAdjust="spacingAndGlyphs" fill="#333">KRAS MUT</text>
<text x="2" y="376.3" font-size="5.1" textLength="17" lengthAdjust="spacingAndGlyphs" fill="#333">p53 MUT</text>
<text x="2" y="384.0" font-size="5.1" textLength="9" lengthAdjust="spacingAndGlyphs" fill="#333">MUT</text>
<text x="2" y="391.7" font-size="5.1" textLength="19" lengthAdjust="spacingAndGlyphs" fill="#333">Uncertain</text>
</svg></body></html>
